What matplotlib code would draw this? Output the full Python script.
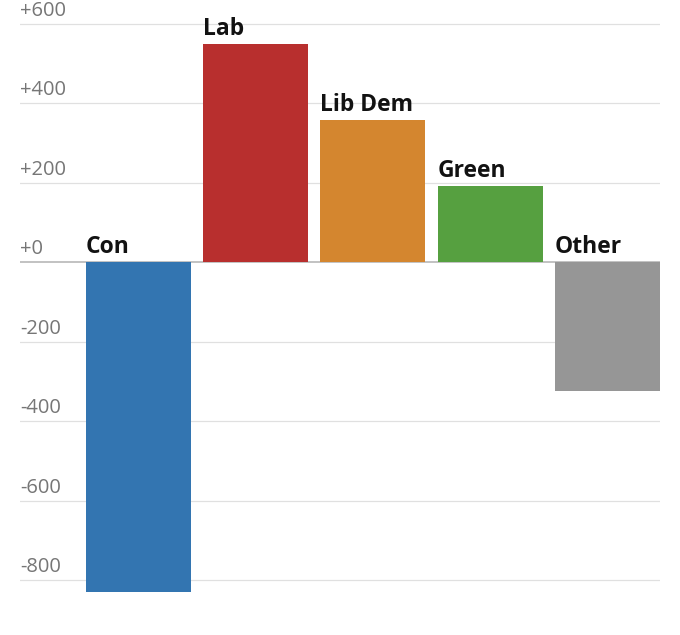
import matplotlib
matplotlib.use("Agg")
import matplotlib.pyplot as plt
import matplotlib.transforms as mtransforms

parties = ["Con", "Lab", "Lib Dem", "Green", "Other"]
seat_change = [-829, 548, 357, 191, -324]
colours = ["#3375b1", "#b82f2e", "#d4862f", "#56a040", "#969696"]
tick_values = [600, 400, 200, 0, -200, -400, -600, -800]
tick_labels = ["+600", "+400", "+200", "+0", "-200", "-400", "-600", "-800"]

plt.rcParams["font.family"] = ["Open Sans", "DejaVu Sans"]

fig = plt.figure(figsize=(6.8, 6.35), dpi=100)
ax = fig.add_axes([20 / 680, 0.049, 640 / 680, 0.9327])
ax.set_xlim(-1.006, 4.448)
ax.set_ylim(-860, 630)
for side in ax.spines.values():
    side.set_visible(False)
ax.set_xticks([])
ax.set_yticks([])

# gridlines and value labels sit above each line
up = mtransforms.offset_copy(ax.transData, fig=fig, x=0, y=3, units="dots")
label_tf = mtransforms.blended_transform_factory(ax.transAxes, up)
for val, lab in zip(tick_values, tick_labels):
    ax.axhline(val, color="#bdbdbd" if val == 0 else "#e0e0e0",
               lw=1.3 if val == 0 else 0.9, zorder=0)
    ax.text(0, val, lab, transform=label_tf, ha="left", va="bottom",
            fontsize=14.5, color="#767676")

xs = range(len(parties))
ax.bar(xs, seat_change, width=0.895, color=colours, zorder=2)

name_tf = mtransforms.offset_copy(ax.transData, fig=fig, x=0, y=3, units="dots")
for x, name, val in zip(xs, parties, seat_change):
    ax.text(x - 0.895 / 2, max(val, 0), name, transform=name_tf,
            ha="left", va="bottom", fontsize=16.5, fontweight="bold",
            color="#121212")

fig.savefig("out.png", dpi=100)
